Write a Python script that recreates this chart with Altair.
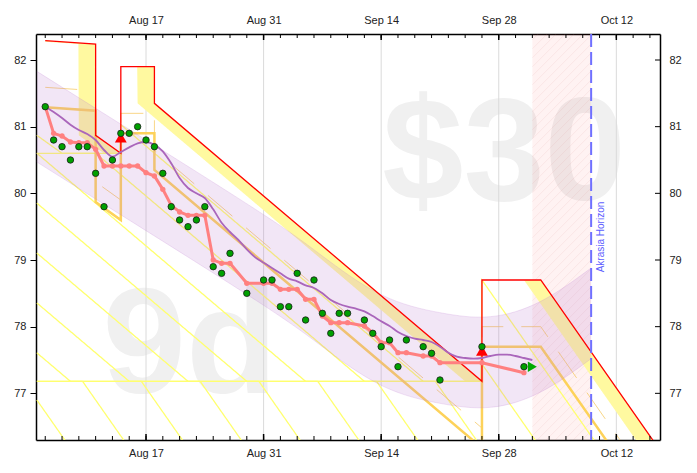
import altair as alt
import numpy as np
import pandas as pd
from datetime import datetime

YEAR = 2023
BASE_DATE = "Aug 4"


def day(s):
    a = datetime.strptime(f"{s} {YEAR}", "%b %d %Y")
    b = datetime.strptime(f"{BASE_DATE} {YEAR}", "%b %d %Y")
    return (a - b).days


# ---------------- data ----------------
DOT_DATES = ["Aug 5", "Aug 6", "Aug 7", "Aug 8", "Aug 9", "Aug 10", "Aug 11", "Aug 12",
             "Aug 13", "Aug 14", "Aug 15", "Aug 16", "Aug 17", "Aug 18", "Aug 19", "Aug 20",
             "Aug 21", "Aug 22", "Aug 23", "Aug 24", "Aug 25", "Aug 26", "Aug 27", "Aug 29",
             "Aug 31", "Sep 1", "Sep 2", "Sep 3", "Sep 4", "Sep 5", "Sep 6", "Sep 7", "Sep 8",
             "Sep 9", "Sep 10", "Sep 12", "Sep 13", "Sep 14", "Sep 15", "Sep 16", "Sep 17",
             "Sep 19", "Sep 20", "Sep 21", "Sep 26", "Oct 1"]
DOT_VALUES = [81.3, 80.8, 80.7, 80.5, 80.7, 80.7, 80.3, 79.8, 80.5, 80.9, 80.9, 81.0,
              80.8, 80.7, 80.3, 79.8, 79.6, 79.5, 79.6, 79.8, 78.9, 78.8, 79.1, 78.5,
              78.7, 78.7, 78.3, 78.3, 78.8, 78.1, 78.7, 78.2, 77.9, 78.2, 78.2, 78.1,
              77.9, 77.7, 77.8, 77.4, 77.8, 77.7, 77.6, 77.2, 77.7, 77.4]
ROSY_VALUES = [81.3, 80.9, 80.86, 80.77, 80.76, 80.76, 80.66, 80.41, 80.41, 80.41, 80.41, 80.41,
               80.31, 80.26, 80.06, 79.82, 79.72, 79.67, 79.67, 79.67, 79.0, 78.95, 78.95, 78.65,
               78.65, 78.65, 78.56, 78.56, 78.56, 78.41, 78.41, 78.16, 78.06, 78.06, 78.06, 78.01,
               77.91, 77.76, 77.76, 77.61, 77.61, 77.56, 77.56, 77.46, 77.46, 77.31]

MA_START = "Aug 5"
MA_VALUES = [81.30, 81.22, 81.13, 81.03, 80.95, 80.89, 80.80, 80.65, 80.55, 80.62, 80.69,
             80.75, 80.77, 80.73, 80.63, 80.45, 80.23, 80.08, 80.00, 79.93, 79.76, 79.56,
             79.42, 79.30, 79.16, 79.04, 78.96,
             78.88, 78.80, 78.72, 78.68, 78.62, 78.58, 78.50, 78.40, 78.34, 78.30, 78.27,
             78.23, 78.16, 78.08, 78.01, 77.92, 77.86, 77.82, 77.80, 77.77, 77.70, 77.61,
             77.55, 77.53, 77.52, 77.53, 77.56, 77.58, 77.58, 77.56,
             77.53, 77.50]

ROAD_DATES = ["Aug 5", "Aug 11", "Aug 11", "Aug 14", "Aug 14", "Aug 18", "Aug 18",
              "Sep 26", "Sep 26", "Oct 3", "Oct 18"]
ROAD_VALUES = [82.29, 82.24, 80.87, 80.60, 81.90, 81.90, 81.35, 77.18, 78.70, 78.70, 76.00]

AURA_DATES = ["Aug 4", "Aug 17", "Aug 31", "Sep 7", "Sep 14", "Sep 21", "Sep 27", "Oct 3", "Oct 9"]
AURA_CENTER = [81.15, 80.12, 79.00, 78.38, 77.80, 77.53, 77.47, 77.70, 78.20]
AURA_HALF = 0.68

TRIANGLE_DATES = ["Aug 14", "Sep 26"]
TRIANGLE_VALUES = [80.9, 77.7]
LAST_DATE, LAST_VALUE = "Oct 2", 77.4

LANE_DAYS = 2
ISO_DAYS = [7, 14, 21, 28, 35, 42, 49, 56, 63, 70]
THICK_OFFSET = 1.0
DASH_OFFSET = 0.7

TODAY = "Oct 2"
HORIZON = "Oct 9"
HORIZON_TEXT = "Akrasia Horizon"
PLEDGE = "$30"
SAFETY = "9d"

MAJOR_LABELS = ["Aug 17", "Aug 31", "Sep 14", "Sep 28", "Oct 12"]
Y_TICKS = [77, 78, 79, 80, 81, 82]

X_DOMAIN = [-0.1, 74.2]
Y_DOMAIN = [76.3, 82.39]
W, H = 624, 406

# ---------------- derived ----------------
MAJOR_DAYS = [day(s) for s in MAJOR_LABELS]
MINOR_DAYS = list(range(day("Aug 5"), int(X_DOMAIN[1]) + 1, 2))

road_d = np.array([day(s) for s in ROAD_DATES], float)
road_v = np.array(ROAD_VALUES, float)


def f_at(t):
    if t < road_d[0]:
        return road_v[0]
    idx = np.searchsorted(road_d, t, side="right") - 1
    n = len(road_d)
    if idx >= n - 1:
        slope = (road_v[n - 1] - road_v[n - 2]) / (road_d[n - 1] - road_d[n - 2])
        return road_v[n - 1] + slope * (t - road_d[n - 1])
    d0, d1 = road_d[idx], road_d[idx + 1]
    v0, v1 = road_v[idx], road_v[idx + 1]
    return v0 + (v1 - v0) * (t - d0) / (d1 - d0)


def iso(t, k):
    vals = [f_at(t), f_at(t + k - 1e-9)]
    mask = (road_d > t) & (road_d <= t + k)
    vals += list(road_v[mask])
    return min(vals)


dots = pd.DataFrame({"t": [day(s) for s in DOT_DATES], "v": DOT_VALUES, "r": ROSY_VALUES})
ma = pd.DataFrame({"t": [day(MA_START) + i for i in range(len(MA_VALUES))], "v": MA_VALUES})
road = pd.DataFrame({"i": range(len(road_d)), "t": road_d, "v": road_v})
road["thick"] = road["v"] - THICK_OFFSET
road["dash"] = road["v"] - DASH_OFFSET

tb = np.round(np.arange(road_d[0], X_DOMAIN[1] + 0.05, 0.05), 3)
band = pd.DataFrame({"t": tb,
                     "hi": [round(f_at(t), 4) for t in tb],
                     "lo": [round(iso(t, LANE_DAYS), 4) for t in tb]})

tg = np.round(np.arange(0, X_DOMAIN[1] + 0.1, 0.1), 3)
rows = []
for k in ISO_DAYS:
    for t in tg:
        v = iso(t, k)
        if v >= Y_DOMAIN[0] - 0.4:
            rows.append((k, t, round(v, 4)))
isos = pd.DataFrame(rows, columns=["k", "t", "v"])

aura = pd.DataFrame({"t": [day(s) for s in AURA_DATES], "c": AURA_CENTER})
aura["hi"] = aura["c"] + AURA_HALF
aura["lo"] = aura["c"] - AURA_HALF

t0, t1 = day(TODAY), day(HORIZON)
px_per_day = W / (X_DOMAIN[1] - X_DOMAIN[0])
px_per_unit = H / (Y_DOMAIN[1] - Y_DOMAIN[0])
hs = px_per_day / px_per_unit
hstep = 9 / px_per_unit
hrows = []
for j, c in enumerate(np.arange(Y_DOMAIN[0] - hs * (t1 - t0), Y_DOMAIN[1] + hstep, hstep)):
    hrows.append((j, t0, c))
    hrows.append((j, t1, c + hs * (t1 - t0)))
hatch = pd.DataFrame(hrows, columns=["j", "t", "v"])

# ---------------- chart ----------------
xs = alt.Scale(domain=X_DOMAIN, nice=False, zero=False)
ys = alt.Scale(domain=Y_DOMAIN, nice=False, zero=False)
FONT = "Liberation Sans"

label_expr = " : ".join(f"datum.value == {d} ? '{l}'" for d, l in zip(MAJOR_DAYS, MAJOR_LABELS)) + " : ''"
axis_common = dict(values=MAJOR_DAYS, labelExpr=label_expr, ticks=False, tickSize=0, grid=False,
                   domainColor="black", domainWidth=1.5, labelFont=FONT, labelFontSize=11,
                   labelColor="#222", title=None, labelFlush=False)
x_top = alt.Axis(orient="top", labelPadding=9, **axis_common)
x_bottom = alt.Axis(orient="bottom", labelPadding=7, **axis_common)
y_left = alt.Axis(orient="left", values=Y_TICKS, format="d", tickSize=6, tickColor="black",
                  tickWidth=1, domainColor="black", domainWidth=1.5, grid=False, labelPadding=4,
                  labelFont=FONT, labelFontSize=11, labelColor="#222", title=None)
y_right = alt.Axis(orient="right", values=Y_TICKS, format="d", ticks=False, tickSize=0,
                   domainColor="black", domainWidth=1.5, grid=False, labelPadding=9,
                   labelFont=FONT, labelFontSize=11, labelColor="#222", title=None)


def X(field="t", axis=None):
    return alt.X(f"{field}:Q", scale=xs, axis=axis)


def Y(field="v", axis=None):
    return alt.Y(f"{field}:Q", scale=ys, axis=axis)


wm1 = alt.Chart(pd.DataFrame({"s": [PLEDGE]})).mark_text(
    font=FONT, fontSize=146, fontWeight="bold", color="#f0f0f0", align="center",
    baseline="alphabetic").encode(text="s:N", x=alt.value(0.75 * W), y=alt.value(166))
wm2 = alt.Chart(pd.DataFrame({"s": [SAFETY]})).mark_text(
    font=FONT, fontSize=150, fontWeight="bold", color="#f0f0f0", align="center",
    baseline="alphabetic").encode(text="s:N", x=alt.value(0.25 * W - 2), y=alt.value(359))

hrect = alt.Chart(pd.DataFrame({"a": [t0], "b": [t1]})).mark_rect(
    color="#ff0000", opacity=0.05).encode(x=X("a"), x2="b:Q", y=alt.value(0), y2=alt.value(H))
hlines = alt.Chart(hatch).mark_line(color="#d08080", opacity=0.14, strokeWidth=0.8, clip=True).encode(
    x=X(), y=Y(), detail="j:N")

grid = alt.Chart(pd.DataFrame({"t": MAJOR_DAYS})).mark_rule(color="#dadada", strokeWidth=1).encode(x=X())

yband = alt.Chart(band).mark_area(color="#fff9a0", clip=True).encode(x=X(), y=Y("hi"), y2="lo:Q")

isolines = alt.Chart(isos).mark_line(color="#ffff6e", strokeWidth=1.3, clip=True).encode(
    x=X(), y=Y(), detail="k:N", order="t:Q")

dashl = alt.Chart(road).mark_line(color="#f6c85f", strokeWidth=1, strokeDash=[32, 18], clip=True,
                                  opacity=0.75).encode(x=X(), y=Y("dash"), order="i:Q")
thick = alt.Chart(road).mark_line(color="#fdd25a", strokeWidth=2.5, clip=True).encode(
    x=X(), y=Y("thick"), order="i:Q")

aura_area = alt.Chart(aura).mark_area(interpolate="natural", color="#c080d0", opacity=0.2).encode(
    x=X(), y=Y("hi"), y2="lo:Q")
aura_hi = alt.Chart(aura).mark_line(interpolate="natural", color="#c080d0", opacity=0.22,
                                    strokeWidth=1).encode(x=X(), y=Y("hi"))
aura_lo = alt.Chart(aura).mark_line(interpolate="natural", color="#c080d0", opacity=0.22,
                                    strokeWidth=1).encode(x=X(), y=Y("lo"))

redline = alt.Chart(road).mark_line(color="#ff0000", strokeWidth=1.3, clip=True).encode(
    x=X(), y=Y(), order="i:Q")

hz = pd.DataFrame({"t": [t1], "s": [HORIZON_TEXT]})
hrule = alt.Chart(hz).mark_rule(color="#7070ff", strokeWidth=2, strokeDash=[13, 5]).encode(x=X())
htext = alt.Chart(hz).mark_text(angle=270, align="center", baseline="top", dy=5, fontSize=10,
                                font=FONT, color="#6060ff").encode(x=X(), y=alt.value(H / 2), text="s:N")

rosy_line = alt.Chart(dots).mark_line(color="#ff8080", strokeWidth=3).encode(x=X(), y=Y("r"))
rosy_pts = alt.Chart(dots).mark_point(filled=True, color="#ff8080", size=28, opacity=1).encode(
    x=X(), y=Y("r"))

ma_line = alt.Chart(ma).mark_line(color="#aa66bb", strokeWidth=1.8, interpolate="monotone").encode(
    x=X(), y=Y())

tri = alt.Chart(pd.DataFrame({"t": [day(s) for s in TRIANGLE_DATES], "v": TRIANGLE_VALUES})).mark_point(
    shape="triangle-up", filled=True, color="#ff0000", size=140, opacity=1).encode(
    x=X(), y=Y(), yOffset=alt.value(4))

green = alt.Chart(dots).mark_point(filled=True, fill="#00a000", stroke="#1a1a1a", strokeWidth=0.8,
                                   size=42, opacity=1).encode(x=X(), y=Y(axis=y_left))

last = alt.Chart(pd.DataFrame({"t": [day(LAST_DATE)], "v": [LAST_VALUE]})).mark_point(
    shape="triangle-right", filled=True, color="#00aa00", size=110, opacity=1).encode(x=X(), y=Y())

minor = pd.DataFrame({"t": MINOR_DAYS})
major = pd.DataFrame({"t": MAJOR_DAYS})
top_minor = alt.Chart(minor).mark_rule(color="black", strokeWidth=1).encode(
    x=X(axis=x_top), y=alt.value(0), y2=alt.value(4))
top_major = alt.Chart(major).mark_rule(color="black", strokeWidth=1.5).encode(
    x=X(), y=alt.value(0), y2=alt.value(6))
bot_minor = alt.Chart(minor).mark_rule(color="black", strokeWidth=1).encode(
    x=X(axis=x_bottom), y=alt.value(H), y2=alt.value(H - 4))
bot_major = alt.Chart(major).mark_rule(color="black", strokeWidth=1.5).encode(
    x=X(), y=alt.value(H), y2=alt.value(H - 6))
right_ticks = alt.Chart(pd.DataFrame({"v": Y_TICKS})).mark_rule(color="black", strokeWidth=1).encode(
    y=Y(axis=y_right), x=alt.value(W - 5), x2=alt.value(W))

chart = alt.layer(
    wm1, wm2, hrect, hlines, grid, yband, isolines, dashl, thick,
    aura_area, aura_hi, aura_lo, redline, hrule, htext,
    rosy_line, rosy_pts, ma_line, tri, green, last,
    top_minor, top_major, bot_minor, bot_major, right_ticks,
).properties(
    width=W, height=H,
    autosize=alt.AutoSizeParams(type="none"),
    padding={"left": 28, "top": 26, "right": 29, "bottom": 30},
).configure_view(stroke=None)

chart.save("out.html", embed_options={"renderer": "svg", "actions": False})
